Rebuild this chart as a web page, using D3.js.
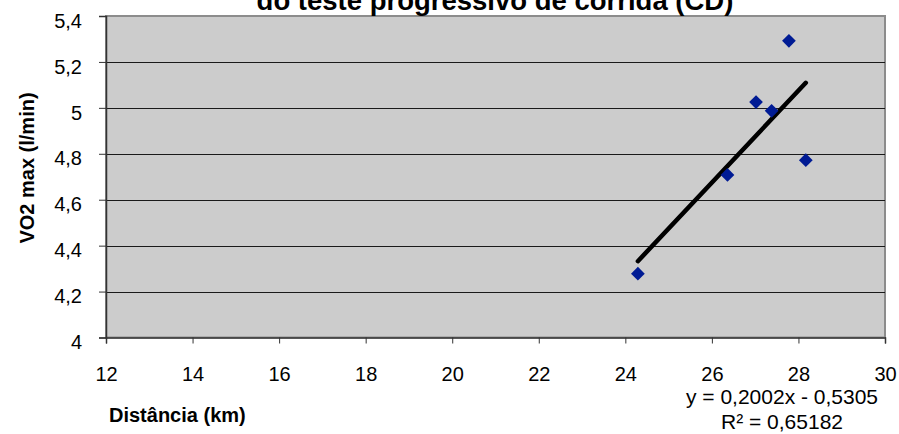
<!DOCTYPE html>
<html>
<head>
<meta charset="utf-8">
<script src="https://cdn.jsdelivr.net/npm/d3@7"></script>
<style>
  html, body { margin: 0; padding: 0; background: #fff; }
  svg { display: block; font-family: "Liberation Sans", Arial, sans-serif; }
</style>
</head>
<body>
<svg id="chart" width="899" height="434"></svg>
<script>
// Distance (km) vs VO2 max (l/min)
const distancia = [24.29, 26.36, 27.02, 27.38, 27.78, 28.17];
const vo2max = [4.278, 4.708, 5.025, 4.987, 5.292, 4.772];
const xTicks = [12, 14, 16, 18, 20, 22, 24, 26, 28, 30];
const yTicks = [4, 4.2, 4.4, 4.6, 4.8, 5, 5.2, 5.4];
const slope = 0.2002;
const intercept = -0.5305;
const equationLines = ['y = 0,2002x - 0,5305', 'R² = 0,65182'];

const svg = d3.select('#chart');
const margin = { top: 16, right: 14, bottom: 96.5, left: 106 };
const width = 899, height = 434;
const font = '"Liberation Sans", Arial, sans-serif';

const x = d3.scaleLinear().domain([12, 30]).range([margin.left, width - margin.right]);
const y = d3.scaleLinear().domain([4, 5.4]).range([height - margin.bottom, margin.top]);
const fmt = d => String(d).replace('.', ',');

// plot area
svg.append('rect')
  .attr('x', x(12)).attr('y', y(5.4))
  .attr('width', x(30) - x(12)).attr('height', y(4) - y(5.4))
  .attr('fill', '#cccccc')
  .attr('stroke', '#8c8c8c')
  .attr('stroke-width', 2);

// gridlines
svg.append('g').selectAll('line').data(yTicks.filter(t => t > 4 && t < 5.4)).enter().append('line')
  .attr('x1', x(12)).attr('x2', x(30))
  .attr('y1', d => Math.round(y(d)) + 0.5).attr('y2', d => Math.round(y(d)) + 0.5)
  .attr('stroke', '#1a1a1a')
  .attr('stroke-width', 1);

// axes
const xAxis = svg.append('g')
  .attr('transform', `translate(0,${y(4)})`)
  .call(d3.axisBottom(x).tickValues(xTicks).tickFormat(fmt).tickSize(6).tickPadding(23));
const yAxis = svg.append('g')
  .attr('transform', `translate(${x(12)},0)`)
  .call(d3.axisLeft(y).tickValues(yTicks).tickFormat(fmt).tickSize(7).tickPadding(17));
[xAxis, yAxis].forEach(g => {
  g.select('.domain').attr('stroke', '#333').attr('stroke-width', 1.5);
  g.selectAll('.tick line').attr('stroke', '#333');
  g.selectAll('.tick text')
    .attr('fill', '#000')
    .style('font-family', font)
    .style('font-size', '20px');
});
yAxis.selectAll('.tick text').attr('dy', '0.56em');

// trendline over the data range
const xMin = d3.min(distancia), xMax = d3.max(distancia);
svg.append('line')
  .attr('x1', x(xMin)).attr('y1', y(slope * xMin + intercept))
  .attr('x2', x(xMax)).attr('y2', y(slope * xMax + intercept))
  .attr('stroke', '#000')
  .attr('stroke-width', 4.5)
  .attr('stroke-linecap', 'round');

// markers
const diamond = d3.symbol().type(d3.symbolDiamond2).size(120);
svg.append('g').selectAll('path').data(distancia).enter().append('path')
  .attr('d', diamond)
  .attr('transform', (d, i) => `translate(${x(d)},${y(vo2max[i])})`)
  .attr('fill', '#001b94');

// title (first line falls off the top, as in the original)
svg.append('text')
  .attr('x', 495).attr('y', 10)
  .attr('text-anchor', 'middle')
  .attr('font-weight', 'bold')
  .attr('font-size', 27.5)
  .text('do teste progressivo de corrida (CD)');

// axis titles
svg.append('text')
  .attr('transform', 'translate(34,168) rotate(-90)')
  .attr('text-anchor', 'middle')
  .attr('font-weight', 'bold')
  .attr('font-size', 20)
  .text('VO2 max (l/min)');

svg.append('text')
  .attr('x', 109).attr('y', 422)
  .attr('font-weight', 'bold')
  .attr('font-size', 20)
  .text('Distância (km)');

// regression label
svg.append('g').selectAll('text').data(equationLines).enter().append('text')
  .attr('x', 782).attr('y', (d, i) => 404 + i * 25)
  .attr('text-anchor', 'middle')
  .attr('font-size', 21)
  .text(d => d);
</script>
</body>
</html>
